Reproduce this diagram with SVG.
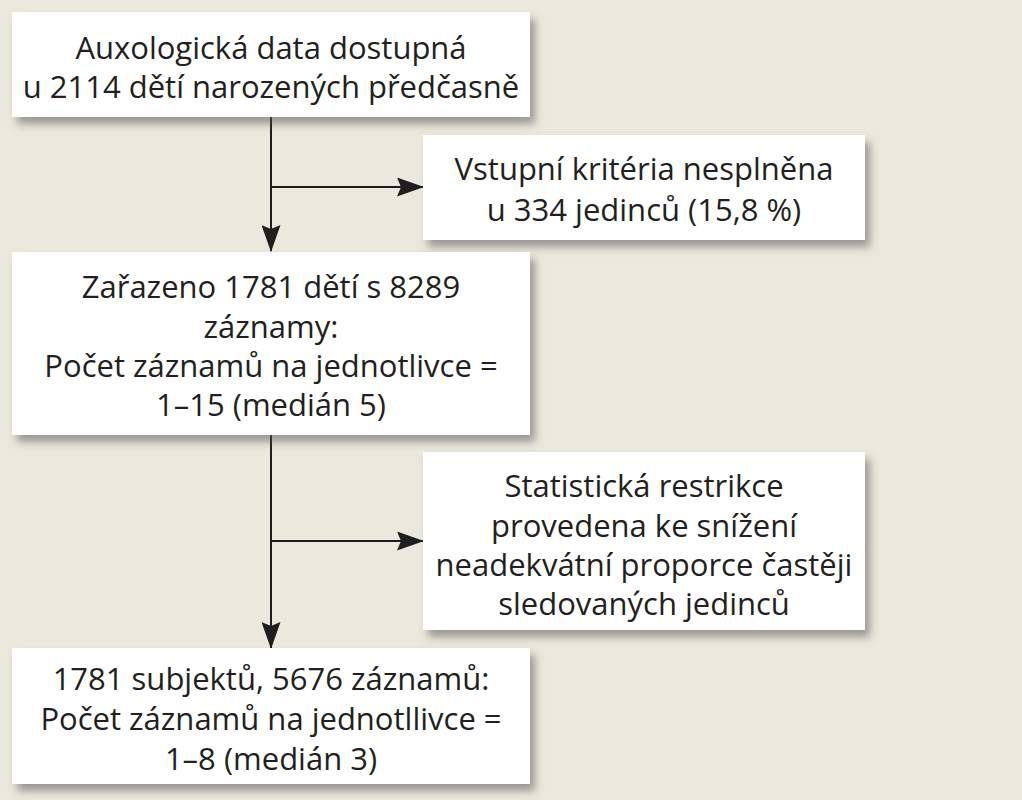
<svg xmlns="http://www.w3.org/2000/svg" width="1022" height="800" viewBox="0 0 1022 800">
<defs>
<filter id="sh" x="-5%" y="-10%" width="115%" height="130%">
<feDropShadow dx="5" dy="7" stdDeviation="4" flood-color="#555" flood-opacity="0.55"/>
</filter>
<marker id="ah" viewBox="0 0 27 19" refX="26" refY="9.5" markerWidth="27" markerHeight="19" markerUnits="userSpaceOnUse" orient="auto">
<path d="M0,0 L27,9.5 L0,19 L4,9.5 Z" fill="#1e1e1e"/>
</marker>
<style>
.box{fill:#ffffff;filter:url(#sh);}
.t{font-family:"Open Sans","Liberation Sans",sans-serif;font-size:31px;fill:#231f20;text-anchor:middle;}
.c{stroke:#1e1e1e;stroke-width:2;fill:none;}
</style>
</defs>
<rect width="1022" height="800" fill="#ebe8dd"/>
<g id="connectors">
<line class="c" x1="271" y1="117" x2="271" y2="251" marker-end="url(#ah)"/>
<line class="c" x1="271" y1="187" x2="423" y2="187" marker-end="url(#ah)"/>
<line class="c" x1="271" y1="435" x2="271" y2="648" marker-end="url(#ah)"/>
<line class="c" x1="271" y1="541" x2="423" y2="541" marker-end="url(#ah)"/>
</g>
<g id="n1">
<rect class="box" x="12" y="12" width="518" height="105"/>
<text class="t" x="271" y="59">Auxologická data dostupná</text>
<text class="t" x="271" y="98">u 2114 dětí narozených předčasně</text>
</g>
<g id="n2">
<rect class="box" x="423" y="135" width="442" height="105"/>
<text class="t" x="644" y="180">Vstupní kritéria nesplněna</text>
<text class="t" x="644" y="221">u 334 jedinců (15,8 %)</text>
</g>
<g id="n3">
<rect class="box" x="12" y="252" width="518" height="183"/>
<text class="t" x="271" y="298">Zařazeno 1781 dětí s 8289</text>
<text class="t" x="271" y="338">záznamy:</text>
<text class="t" x="271" y="377">Počet záznamů na jednotlivce =</text>
<text class="t" x="271" y="416">1–15 (medián 5)</text>
</g>
<g id="n4">
<rect class="box" x="423" y="452" width="442" height="178"/>
<text class="t" x="644" y="497">Statistická restrikce</text>
<text class="t" x="644" y="537">provedena ke snížení</text>
<text class="t" x="644" y="576">neadekvátní proporce častěji</text>
<text class="t" x="644" y="615">sledovaných jedinců</text>
</g>
<g id="n5">
<rect class="box" x="12" y="648" width="518" height="136"/>
<text class="t" x="271" y="690">1781 subjektů, 5676 záznamů:</text>
<text class="t" x="271" y="730">Počet záznamů na jednotllivce =</text>
<text class="t" x="271" y="770">1–8 (medián 3)</text>
</g>
</svg>
